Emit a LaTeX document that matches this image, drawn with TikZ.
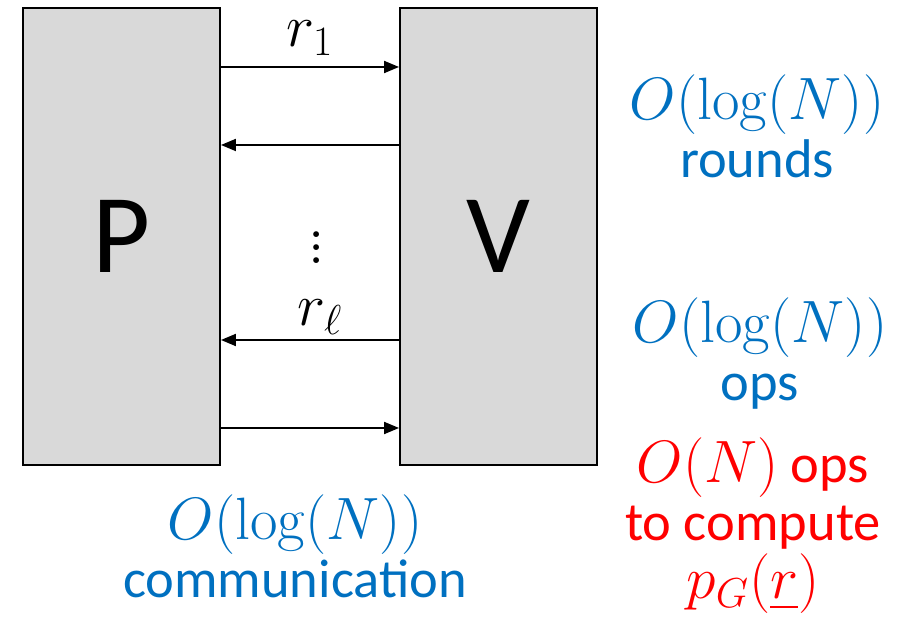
\RequirePackage{fix-cm}
\documentclass[tikz,border=0pt]{standalone}
\usepackage{amsmath, amssymb}
\usepackage[no-math]{fontspec}
\setmainfont{Carlito}
\usepackage{tikz}
\usetikzlibrary{arrows, arrows.meta}
\definecolor{lblue}{HTML}{0070C0}
\definecolor{lred}{HTML}{FF0000}
\newcommand{\costm}[1]{{\fontsize{34}{33}\selectfont$#1$}}
\newcommand{\tallvdots}{\vbox{\baselineskip7.5pt\lineskiplimit0pt\hbox{$.$}\hbox{$.$}\hbox{$.$}}}
\tikzset{
  party/.style={draw=black, line width=1.1pt, fill=black!15, minimum width=3.94cm, minimum height=9.14cm, inner sep=0pt, font=\fontsize{64}{64}\selectfont},
  msg/.style={line width=1.1pt, >={Triangle[length=3mm, width=2.4mm]}, ->},
  cost/.style={align=center, font=\fontsize{31}{33}\selectfont},
}

\begin{document}
\begin{tikzpicture}
  \useasboundingbox (0,0) rectangle (18.1,12.42);

  \node[party] (P) at (2.43,7.69) {P};
  \node[party] (V) at (9.97,7.69) {V};

  \coordinate (pa) at (P.east |- 0,11.08);
  \coordinate (va) at (V.west |- 0,11.08);
  \coordinate (pb) at (P.east |- 0,9.52);
  \coordinate (vb) at (V.west |- 0,9.52);
  \coordinate (pc) at (P.east |- 0,5.62);
  \coordinate (vc) at (V.west |- 0,5.62);
  \coordinate (pd) at (P.east |- 0,3.86);
  \coordinate (vd) at (V.west |- 0,3.86);

  \node[cost] (rone) at (6.2,11.66) {\costm{r_1}};
  \node[cost] (dots) at (6.34,7.47) {\costm{\tallvdots}};
  \node[cost] (rell) at (6.4,6.08) {\costm{r_\ell}};

  \draw[msg] (pa) -- (va);
  \draw[msg] (vb) -- (pb);
  \draw[msg] (vc) -- (pc);
  \draw[msg] (pd) -- (vd);

  \node[cost, text=lblue] (rounds) at (15.14,9.9) {\costm{O(\log(N))}\\rounds};
  \node[cost, text=lblue] (ops) at (15.2,5.34) {\costm{O(\log(N))}\\ops};
  \node[cost, text=lred] (prover) at (15.06,1.9) {\costm{O(N)} ops\\to compute\\\costm{p_G(\underline{r})}};
  \node[cost, text=lblue] (comm) at (5.9,1.5) {\costm{O(\log(N))}\\communication};
\end{tikzpicture}
\end{document}
